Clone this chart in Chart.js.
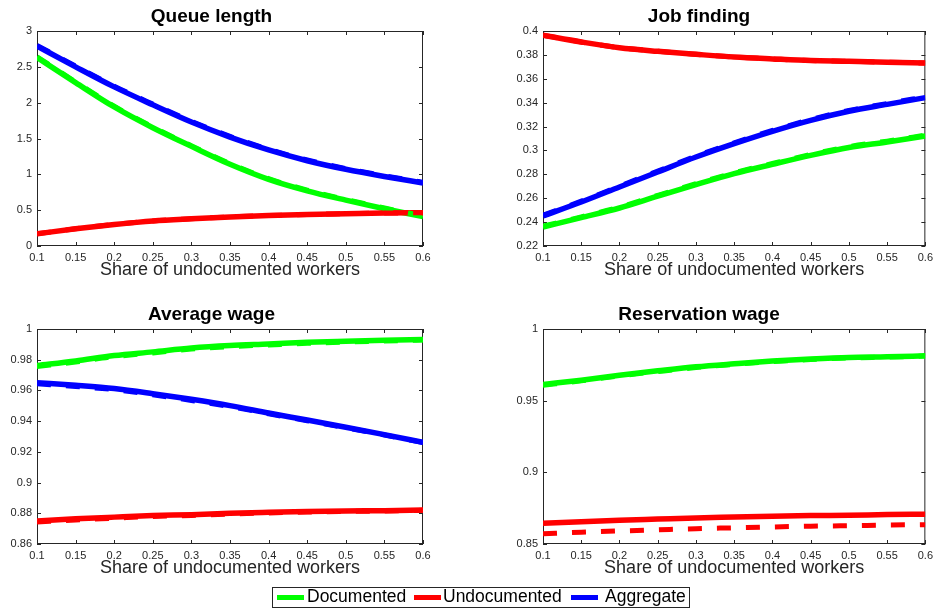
<!DOCTYPE html>
<html>
<head>
<meta charset="utf-8">
<script src="https://cdn.jsdelivr.net/npm/chart.js@4.4.1/dist/chart.umd.min.js"></script>
<style>
  html, body { margin: 0; padding: 0; background: #fff; }
  body { width: 938px; height: 609px; position: relative; overflow: hidden;
         font-family: "Liberation Sans", Arial, sans-serif; }
  canvas { position: absolute; }
  #legend { position: absolute; left: 272px; top: 587px; width: 418px; height: 21px;
            border: 1px solid #262626; box-sizing: border-box; background: #fff; }
  #legend .sw { position: absolute; top: 7px; width: 27px; height: 5px; }
  #legend .tx { position: absolute; top: -2px; font-size: 17.5px; line-height: 21px; color: #000; white-space: nowrap; }
</style>
</head>
<body>
<canvas id="c1" width="469" height="290" style="left:0;top:0"></canvas>
<canvas id="c2" width="469" height="290" style="left:469px;top:0"></canvas>
<canvas id="c3" width="469" height="290" style="left:0;top:298px"></canvas>
<canvas id="c4" width="469" height="290" style="left:469px;top:298px"></canvas>
<div id="legend">
  <div class="sw" style="left:4px;background:#00ff00"></div><div class="tx" style="left:34px">Documented</div>
  <div class="sw" style="left:141px;background:#ff0000"></div><div class="tx" style="left:170px">Undocumented</div>
  <div class="sw" style="left:298px;background:#0000ff"></div><div class="tx" style="left:332px">Aggregate</div>
</div>
<script>
// Share of undocumented workers (x axis)
const shares = [0.1, 0.15, 0.2, 0.25, 0.3, 0.35, 0.4, 0.45, 0.5, 0.55, 0.6];
const xTicks = [0.1, 0.15, 0.2, 0.25, 0.3, 0.35, 0.4, 0.45, 0.5, 0.55, 0.6];

// Queue length
const queueDoc    = [2.63, 2.28, 1.94, 1.65, 1.39, 1.14, 0.93, 0.77, 0.64, 0.52, 0.41];
const queueDocAlt = [2.64, 2.29, 1.95, 1.66, 1.40, 1.15, 0.94, 0.78, 0.65, 0.53, 0.42];
const queueUnd    = [0.17, 0.24, 0.30, 0.35, 0.38, 0.405, 0.425, 0.44, 0.45, 0.46, 0.465];
const queueUndAlt = [0.17, 0.24, 0.30, 0.35, 0.38, 0.405, 0.425, 0.44, 0.45, 0.46, 0.465];
const queueAgg    = [2.79, 2.50, 2.22, 1.97, 1.73, 1.52, 1.34, 1.19, 1.07, 0.97, 0.88];
const queueAggAlt = [2.80, 2.51, 2.23, 1.98, 1.74, 1.53, 1.35, 1.20, 1.08, 0.98, 0.89];
const queueTicks  = [0, 0.5, 1, 1.5, 2, 2.5, 3];

// Job finding
const jobDoc    = [0.2359, 0.2437, 0.2518, 0.2617, 0.2714, 0.2806, 0.2884, 0.2959, 0.3025, 0.3071, 0.3121];
const jobDocAlt = [0.2366, 0.2444, 0.2525, 0.2624, 0.2721, 0.2813, 0.2891, 0.2966, 0.3032, 0.3078, 0.3128];
const jobUnd    = [0.3964, 0.3908, 0.3860, 0.3830, 0.3805, 0.3782, 0.3766, 0.3752, 0.3746, 0.3738, 0.3732];
const jobUndAlt = [0.3964, 0.3908, 0.3860, 0.3830, 0.3805, 0.3782, 0.3766, 0.3752, 0.3746, 0.3738, 0.3732];
const jobAgg    = [0.2451, 0.2568, 0.2694, 0.2820, 0.2945, 0.3057, 0.3160, 0.3252, 0.3328, 0.3386, 0.3442];
const jobAggAlt = [0.2458, 0.2575, 0.2701, 0.2827, 0.2952, 0.3064, 0.3167, 0.3259, 0.3335, 0.3393, 0.3449];
const jobTicks  = [0.22, 0.24, 0.26, 0.28, 0.3, 0.32, 0.34, 0.36, 0.38, 0.4];

// Average wage
const avgDoc    = [0.9762, 0.9792, 0.9827, 0.9851, 0.9876, 0.9892, 0.9902, 0.9913, 0.9920, 0.9926, 0.9931];
const avgDocAlt = [0.9755, 0.9785, 0.9820, 0.9844, 0.9869, 0.9885, 0.9896, 0.9907, 0.9915, 0.9922, 0.9928];
const avgUnd    = [0.8750, 0.8764, 0.8775, 0.8785, 0.8791, 0.8800, 0.8806, 0.8811, 0.8815, 0.8817, 0.8821];
const avgUndAlt = [0.8743, 0.8757, 0.8768, 0.8779, 0.8786, 0.8795, 0.8802, 0.8808, 0.8812, 0.8815, 0.8819];
const avgAgg    = [0.9650, 0.9633, 0.9612, 0.9579, 0.9542, 0.9501, 0.9453, 0.9407, 0.9360, 0.9312, 0.9262];
const avgAggAlt = [0.9643, 0.9626, 0.9605, 0.9572, 0.9535, 0.9495, 0.9448, 0.9403, 0.9357, 0.9310, 0.9260];
const avgTicks  = [0.86, 0.88, 0.9, 0.92, 0.94, 0.96, 0.98, 1];

// Reservation wage
const resDoc    = [0.9613, 0.9643, 0.9678, 0.9708, 0.9736, 0.9757, 0.9776, 0.9790, 0.9801, 0.9806, 0.9813];
const resDocAlt = [0.9608, 0.9638, 0.9673, 0.9703, 0.9731, 0.9753, 0.9772, 0.9787, 0.9798, 0.9804, 0.9811];
const resUnd    = [0.8645, 0.8656, 0.8666, 0.8674, 0.8682, 0.8688, 0.8694, 0.8698, 0.8701, 0.8705, 0.8708];
const resUndAlt = [0.8572, 0.8582, 0.8591, 0.8599, 0.8607, 0.8613, 0.8619, 0.8624, 0.8628, 0.8632, 0.8635];
const resTicks  = [0.85, 0.9, 0.95, 1];

const FONT = '"Liberation Sans", Arial, sans-serif';
const INK = '#262626';
const GREEN = '#00ff00', RED = '#ff0000', BLUE = '#0000ff';
const W = 469, H = 290, BOTTOM = 246;

const fmt = v => String(+Number(v).toFixed(2));
const pts = ys => shares.map((x, i) => ({ x, y: ys[i] }));

function line(label, ys, color, dashed, order) {
  return {
    label, data: pts(ys), borderColor: color, backgroundColor: color,
    borderWidth: dashed ? 5 : 5.5, borderDash: dashed ? [14, 15] : [],
    pointRadius: 0, fill: false, cubicInterpolationMode: 'monotone',
    borderCapStyle: 'butt', order
  };
}

// axes box with inward tick marks on all four sides
const boxPlugin = {
  id: 'box',
  beforeDatasetsDraw(chart) {
    const { ctx, chartArea: a, scales: { x, y } } = chart;
    const len = 4;
    ctx.save();
    ctx.strokeStyle = INK;
    ctx.lineWidth = 1;
    ctx.strokeRect(a.left + 0.5, a.top + 0.5, a.right - a.left - 1, a.bottom - a.top - 1);
    ctx.beginPath();
    x.ticks.forEach(t => {
      const px = Math.round(x.getPixelForValue(t.value)) + 0.5;
      ctx.moveTo(px, a.bottom); ctx.lineTo(px, a.bottom - len);
      ctx.moveTo(px, a.top); ctx.lineTo(px, a.top + len);
    });
    y.ticks.forEach(t => {
      const py = Math.round(y.getPixelForValue(t.value)) + 0.5;
      ctx.moveTo(a.left, py); ctx.lineTo(a.left + len, py);
      ctx.moveTo(a.right, py); ctx.lineTo(a.right - len, py);
    });
    ctx.stroke();
    ctx.restore();
  }
};

function panel(id, title, plotLeft, plotRight, yTicks, datasets) {
  new Chart(document.getElementById(id), {
    type: 'line',
    data: { datasets },
    plugins: [boxPlugin],
    options: {
      responsive: false, animation: false, devicePixelRatio: 1,
      layout: { padding: { left: 0, right: W - plotRight, top: 0, bottom: 0 } },
      plugins: {
        legend: { display: false }, tooltip: { enabled: false },
        title: { display: true, text: title, color: '#000',
                 font: { family: FONT, size: 19, weight: 'bold', lineHeight: 1.2 },
                 padding: { top: 5.6, bottom: 2.6 } }
      },
      scales: {
        x: {
          type: 'linear', min: xTicks[0], max: xTicks[xTicks.length - 1],
          afterBuildTicks: s => { s.ticks = xTicks.map(v => ({ value: v })); },
          afterFit: s => { s.height = H - BOTTOM; },
          grid: { display: false, drawTicks: false }, border: { display: false },
          ticks: { padding: 5, color: INK, font: { family: FONT, size: 11 },
                   maxRotation: 0, autoSkip: false, callback: v => fmt(v) },
          title: { display: true, text: 'Share of undocumented workers', color: INK,
                   font: { family: FONT, size: 18, lineHeight: 1.2 },
                   padding: { top: 0, bottom: 9.5 } }
        },
        y: {
          type: 'linear', min: yTicks[0], max: yTicks[yTicks.length - 1],
          afterBuildTicks: s => { s.ticks = yTicks.map(v => ({ value: v })); },
          afterFit: s => { s.width = plotLeft; },
          grid: { display: false, drawTicks: false }, border: { display: false },
          ticks: { padding: 5, color: INK, font: { family: FONT, size: 11 },
                   autoSkip: false, callback: v => fmt(v) }
        }
      }
    }
  });
}

// draw order: solid green, red, blue, then dashed green, red, blue on top
panel('c1', 'Queue length', 37, 423, queueTicks, [
  line('Documented', queueDoc, GREEN, false, 6),
  line('Undocumented', queueUnd, RED, false, 5),
  line('Aggregate', queueAgg, BLUE, false, 4),
  line('Documented', queueDocAlt, GREEN, true, 3),
  line('Undocumented', queueUndAlt, RED, true, 2),
  line('Aggregate', queueAggAlt, BLUE, true, 1)
]);
panel('c2', 'Job finding', 74, 460, jobTicks, [
  line('Documented', jobDoc, GREEN, false, 6),
  line('Undocumented', jobUnd, RED, false, 5),
  line('Aggregate', jobAgg, BLUE, false, 4),
  line('Documented', jobDocAlt, GREEN, true, 3),
  line('Undocumented', jobUndAlt, RED, true, 2),
  line('Aggregate', jobAggAlt, BLUE, true, 1)
]);
panel('c3', 'Average wage', 37, 423, avgTicks, [
  line('Documented', avgDoc, GREEN, false, 6),
  line('Undocumented', avgUnd, RED, false, 5),
  line('Aggregate', avgAgg, BLUE, false, 4),
  line('Documented', avgDocAlt, GREEN, true, 3),
  line('Undocumented', avgUndAlt, RED, true, 2),
  line('Aggregate', avgAggAlt, BLUE, true, 1)
]);
panel('c4', 'Reservation wage', 74, 460, resTicks, [
  line('Documented', resDoc, GREEN, false, 6),
  line('Undocumented', resUnd, RED, false, 5),
  line('Documented', resDocAlt, GREEN, true, 3),
  line('Undocumented', resUndAlt, RED, true, 2)
]);
</script>
</body>
</html>
